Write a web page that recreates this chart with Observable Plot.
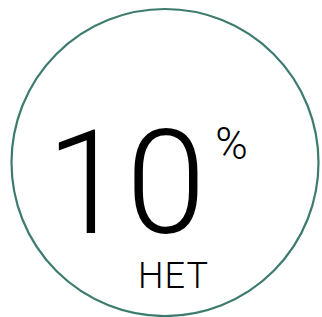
<!DOCTYPE html>
<html><head><meta charset="utf-8">
<script src="https://cdn.jsdelivr.net/npm/d3@7"></script>
<script src="https://cdn.jsdelivr.net/npm/@observablehq/plot@0.6"></script>
<style>body{margin:0;background:#fff} .wide text{letter-spacing:1px}</style>
</head><body><div id="chart"></div>
<script>
const values = [10];
const units = ["%"];
const labels = ["НЕТ"];
const ringColor = "#3e7b6f";

const chart = Plot.plot({
  width: 322, height: 317,
  marginLeft: 7, marginTop: 7, marginRight: 0, marginBottom: 0,
  x: {axis: null}, y: {axis: null},
  style: {fontFamily: "Roboto", background: "#fff"},
  marks: [
    Plot.dot(values, {frameAnchor: "middle", r: 153.5, stroke: ringColor, strokeWidth: 2.2, fill: "none"}),
    Plot.text(values, {text: d => String(d), frameAnchor: "middle", dx: -39, dy: 70, lineAnchor: "bottom", textAnchor: "middle", fontSize: 144, fontWeight: 300, fill: "#000"}),
    Plot.text(units, {text: d => d, frameAnchor: "middle", dx: 66.5, dy: -4, lineAnchor: "bottom", textAnchor: "middle", fontSize: 44, fontWeight: 300, fill: "#000"}),
    Plot.text(labels, {text: d => d, frameAnchor: "middle", dx: 8.5, dy: 125, lineAnchor: "bottom", textAnchor: "middle", fontSize: 36, fontWeight: 300, fill: "#000", className: "wide"})
  ]
});
document.getElementById("chart").append(chart);
</script></body></html>
